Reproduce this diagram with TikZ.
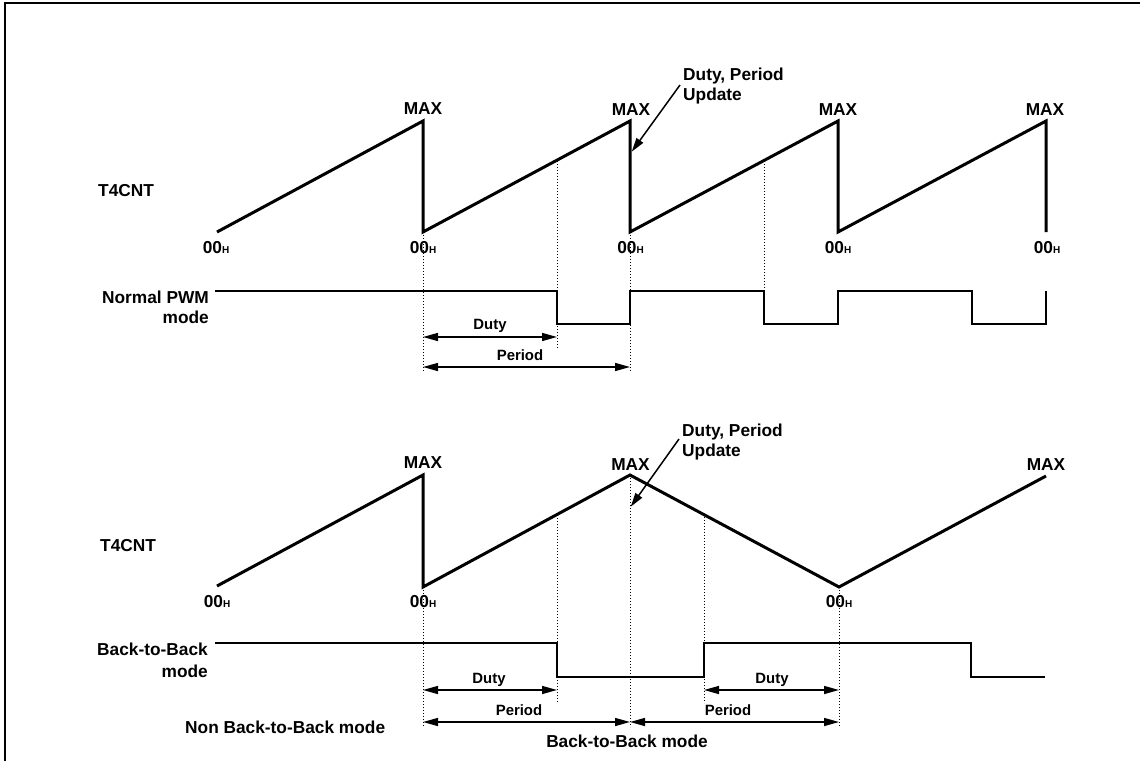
\documentclass[tikz,border=0pt]{standalone}
\usepackage{fontspec}
\setmainfont{Liberation Sans}
\usetikzlibrary{arrows.meta}
\newcommand\subH{{\fontsize{10}{10}\selectfont H}}
\begin{document}
\begin{tikzpicture}[x=1pt,y=-1pt,
  wave/.style={line width=3pt},
  sig/.style={line width=2pt},
  guide/.style={line width=1pt, dash pattern=on 1pt off 2pt},
  dim/.style={line width=1.5pt, {Triangle[length=15pt,width=8pt]}-{Triangle[length=15pt,width=8pt]}},
  callout/.style={line width=1.5pt, -{Triangle[length=14pt,width=8pt]}},
  big/.style={font=\bfseries\fontsize{17.3}{20}\selectfont, inner sep=0pt},
  small/.style={font=\bfseries\fontsize{14.9}{17}\selectfont, inner sep=0pt}]
\useasboundingbox (0,0) rectangle (1140,761);
\fill[white] (0,0) rectangle (1140,761);
% frame (left and top edges)
\draw[line width=2pt] (5,761) -- (5,3) -- (1140,3);

% ===== upper panel =====
\node[big, anchor=base west] (cnt1) at (98,196) {T4CNT};
\draw[wave] (217,232) -- (423,121) -- (423,232) -- (630,121) -- (630,232) -- (838,121) -- (838,232) -- (1046,121) -- (1046,232);
\node[big, anchor=base] (max1) at (423,114) {MAX};
\node[big, anchor=base] (max2) at (631,115) {MAX};
\node[big, anchor=base] (max3) at (838,115) {MAX};
\node[big, anchor=base] (max4) at (1045,115) {MAX};
\node[big, anchor=base] (z1) at (216,253) {00\subH};
\node[big, anchor=base] (z2) at (423,253) {00\subH};
\node[big, anchor=base] (z3) at (630.5,253) {00\subH};
\node[big, anchor=base] (z4) at (838,253) {00\subH};
\node[big, anchor=base] (z5) at (1047,253) {00\subH};
\node[big, anchor=base west] (upa) at (683,80.7) {Duty, Period};
\node[big, anchor=base west] (upb) at (683,100.7) {Update};
\coordinate (upfrom) at (680,85);
\coordinate (uptip) at (631.7,151.7);
\draw[callout] (upfrom) -- (uptip);

\draw[guide] (423,232) -- (423,372);
\draw[guide] (557,161) -- (557,348);
\draw[guide] (630,232) -- (630,372);
\draw[guide] (764,161) -- (764,291);

\node[big, anchor=base east] (pwm1) at (209,303) {Normal PWM};
\node[big, anchor=base east] (pwm2) at (209,323) {mode};
\draw[sig] (215,291) -- (557,291) -- (557,324) -- (630,324) -- (630,291) -- (764,291) -- (764,324) -- (838,324) -- (838,291) -- (972,291) -- (972,324) -- (1046,324) -- (1046,291);

\coordinate (da1) at (423,337); \coordinate (db1) at (557,337);
\draw[dim] (da1) -- (db1);
\node[small, anchor=base] (duty1) at (490,329.3) {Duty};
\coordinate (pa1) at (423,367); \coordinate (pb1) at (630,367);
\draw[dim] (pa1) -- (pb1);
\node[small, anchor=base] (per1) at (520,360.7) {Period};

% ===== lower panel =====
\node[big, anchor=base west] (cnt2) at (100,551) {T4CNT};
\draw[wave] (217,586) -- (423,475) -- (423,587) -- (630,475) -- (839,587) -- (1046,476);
\node[big, anchor=base] (max5) at (423,468) {MAX};
\node[big, anchor=base] (max6) at (630.5,470.7) {MAX};
\node[big, anchor=base] (max7) at (1046,470.7) {MAX};
\node[big, anchor=base] (z6) at (217,607.5) {00\subH};
\node[big, anchor=base] (z7) at (423,607.5) {00\subH};
\node[big, anchor=base] (z8) at (839,607.5) {00\subH};
\node[big, anchor=base west] (upc) at (682,436) {Duty, Period};
\node[big, anchor=base west] (upd) at (682,456) {Update};
\coordinate (upfrom2) at (679,439);
\coordinate (uptip2) at (630.7,506.7);
\draw[callout] (upfrom2) -- (uptip2);

\draw[guide] (423,587) -- (423,727);
\draw[guide] (557,515) -- (557,703);
\draw[guide] (630,475) -- (630,727);
\draw[guide] (704,514) -- (704,703);
\draw[guide] (839,587) -- (839,727);

\node[big, anchor=base east] (btb1) at (208,655) {Back-to-Back};
\node[big, anchor=base east] (btb2) at (208,677) {mode};
\draw[sig] (215,643) -- (557,643) -- (557,677) -- (704,677) -- (704,643) -- (971,643) -- (971,677) -- (1045,677);

\coordinate (da2) at (423,690); \coordinate (db2) at (557,690);
\draw[dim] (da2) -- (db2);
\node[small, anchor=base] (duty2) at (489,683) {Duty};
\coordinate (da3) at (704,690); \coordinate (db3) at (839,690);
\draw[dim] (da3) -- (db3);
\node[small, anchor=base] (duty3) at (772,683) {Duty};
\coordinate (pa2) at (423,722); \coordinate (pb2) at (630,722); \coordinate (pc2) at (839,722);
\draw[dim] (pa2) -- (pb2);
\draw[dim] (pb2) -- (pc2);
\node[small, anchor=base] (per2) at (519,715) {Period};
\node[small, anchor=base] (per3) at (728,715) {Period};

\node[big, anchor=base west] (nbtb) at (185,733) {Non Back-to-Back mode};
\node[big, anchor=base] (btbm) at (627,747.7) {Back-to-Back mode};
\end{tikzpicture}
\end{document}
